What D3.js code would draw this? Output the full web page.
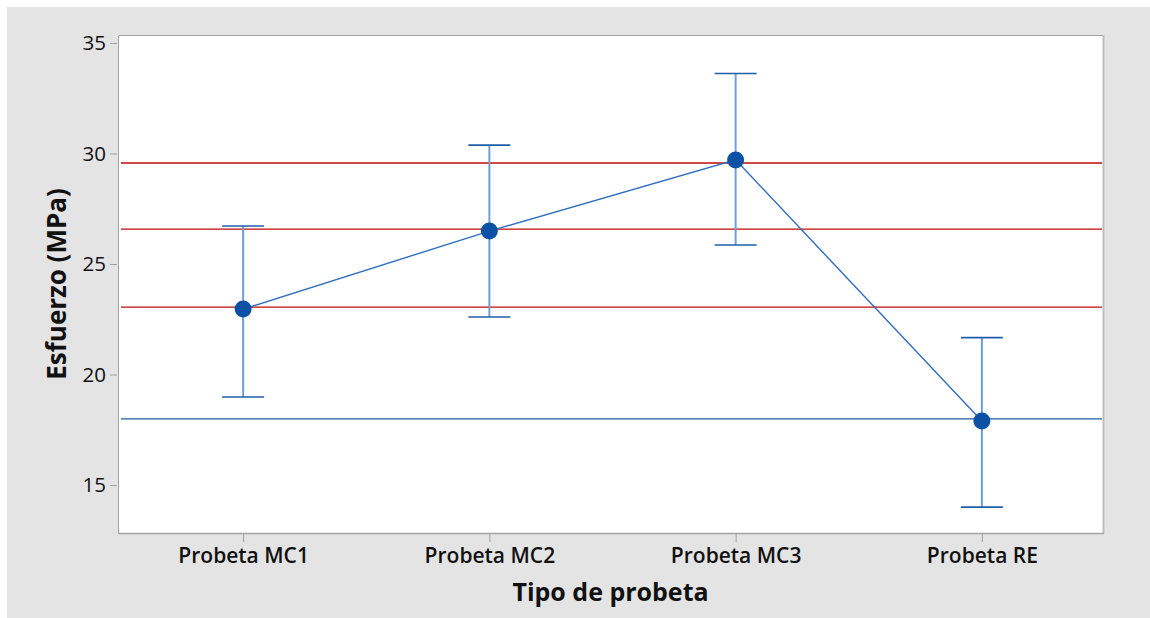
<!DOCTYPE html>
<html>
<head>
<meta charset="utf-8">
<script src="https://cdn.jsdelivr.net/npm/d3@7"></script>
<style>
  html, body { margin: 0; padding: 0; background: #ffffff; }
  svg { display: block; }
  text { font-family: "Open Sans", "Noto Sans", sans-serif; fill: #111; }
</style>
</head>
<body>
<svg id="chart" width="1150" height="618"></svg>
<script>
// Specimen types
const categories = ["Probeta MC1", "Probeta MC2", "Probeta MC3", "Probeta RE"];
// Mean stress (MPa) and interval bounds
const means = [22.96, 26.49, 29.71, 17.90];
const lower = [18.98, 22.60, 25.86, 14.00];
const upper = [26.72, 30.38, 33.62, 21.67];
// Horizontal reference levels
const refLevels = [29.57, 26.58, 23.05, 17.99];
const refColors = ["#c00a0a", "#c00a0a", "#c00a0a", "#1d5a9c"];
// Y-axis ticks
const yTicks = [15, 20, 25, 30, 35];

const svg = d3.select("#chart");

// outer panel
svg.append("rect").attr("x", 7).attr("y", 7).attr("width", 1143).attr("height", 611)
  .attr("fill", "#e4e4e4");

const plot = { left: 118, top: 35, right: 1103, bottom: 533 };

svg.append("rect")
  .attr("x", plot.left).attr("y", plot.top)
  .attr("width", plot.right - plot.left).attr("height", plot.bottom - plot.top)
  .attr("fill", "#ffffff");

const x = d3.scalePoint().domain(categories).range([plot.left + 2, plot.right + 2]).padding(0.5);
const y = d3.scaleLinear().domain([12.83, 35.36]).range([plot.bottom, plot.top]);

// plot frame
svg.append("line").attr("x1", plot.right + 0.5).attr("x2", plot.right + 0.5)
  .attr("y1", plot.top).attr("y2", plot.bottom).attr("stroke", "#bdbdbd").attr("stroke-width", 2);
svg.append("path")
  .attr("d", `M${plot.left + 0.5},${plot.bottom + 0.5}V${plot.top + 0.5}H${plot.right}`)
  .attr("fill", "none").attr("stroke", "#a3a3a3").attr("stroke-width", 1);
svg.append("line").attr("x1", plot.left).attr("x2", plot.right + 1)
  .attr("y1", plot.bottom + 0.5).attr("y2", plot.bottom + 0.5)
  .attr("stroke", "#a3a3a3").attr("stroke-width", 1.5);

// y axis
const yAxis = d3.axisLeft(y).tickValues(yTicks).tickSize(7).tickPadding(4);
const gy = svg.append("g").attr("transform", `translate(${plot.left - 1},0)`).call(yAxis);
gy.select(".domain").remove();
gy.selectAll(".tick line").attr("stroke", "#a0a0a0");
gy.selectAll(".tick text").style("font-size", "20.5px").attr("fill", "#0a0a0a");

// x axis
const xAxis = d3.axisBottom(x).tickSize(8).tickPadding(6);
const gx = svg.append("g").attr("transform", `translate(0,${plot.bottom + 1})`).call(xAxis);
gx.select(".domain").remove();
gx.selectAll(".tick line").attr("stroke", "#a0a0a0");
gx.selectAll(".tick text").style("font-size", "21px").style("font-weight", 600).attr("fill", "#0a0a0a");

// axis titles
svg.append("text")
  .attr("x", (plot.left + plot.right) / 2).attr("y", 601)
  .attr("text-anchor", "middle")
  .style("font-size", "25px").style("font-weight", 700)
  .text("Tipo de probeta");

svg.append("text")
  .attr("transform", `translate(66,${(plot.top + plot.bottom) / 2}) rotate(-90)`)
  .attr("text-anchor", "middle")
  .style("font-size", "26px").style("font-weight", 700)
  .text("Esfuerzo (MPa)");

// reference lines
svg.append("g").selectAll("line").data(refLevels).join("line")
  .attr("x1", plot.left + 3).attr("x2", plot.right - 1)
  .attr("y1", d => y(d)).attr("y2", d => y(d))
  .attr("stroke", (d, i) => refColors[i]).attr("stroke-width", 1.3);

// connecting line through the means
const pts = categories.map((c, i) => [x(c), y(means[i])]);
svg.append("path")
  .attr("d", d3.line()(pts))
  .attr("fill", "none").attr("stroke", "#2f6fbf").attr("stroke-width", 1.4);

// interval bars
const bars = svg.append("g").selectAll("g").data(categories).join("g");
bars.append("line")
  .attr("x1", d => x(d)).attr("x2", d => x(d))
  .attr("y1", (d, i) => y(upper[i])).attr("y2", (d, i) => y(lower[i]))
  .attr("stroke", "#6d9fd6").attr("stroke-width", 2);
bars.append("line")
  .attr("x1", d => x(d) - 21).attr("x2", d => x(d) + 21)
  .attr("y1", (d, i) => y(upper[i])).attr("y2", (d, i) => y(upper[i]))
  .attr("stroke", "#1f5fa8").attr("stroke-width", 1.6);
bars.append("line")
  .attr("x1", d => x(d) - 21).attr("x2", d => x(d) + 21)
  .attr("y1", (d, i) => y(lower[i])).attr("y2", (d, i) => y(lower[i]))
  .attr("stroke", "#1f5fa8").attr("stroke-width", 1.6);

// mean markers
svg.append("g").selectAll("circle").data(categories).join("circle")
  .attr("cx", d => x(d)).attr("cy", (d, i) => y(means[i]))
  .attr("r", 8.5).attr("fill", "#0b52a6");
</script>
</body>
</html>
